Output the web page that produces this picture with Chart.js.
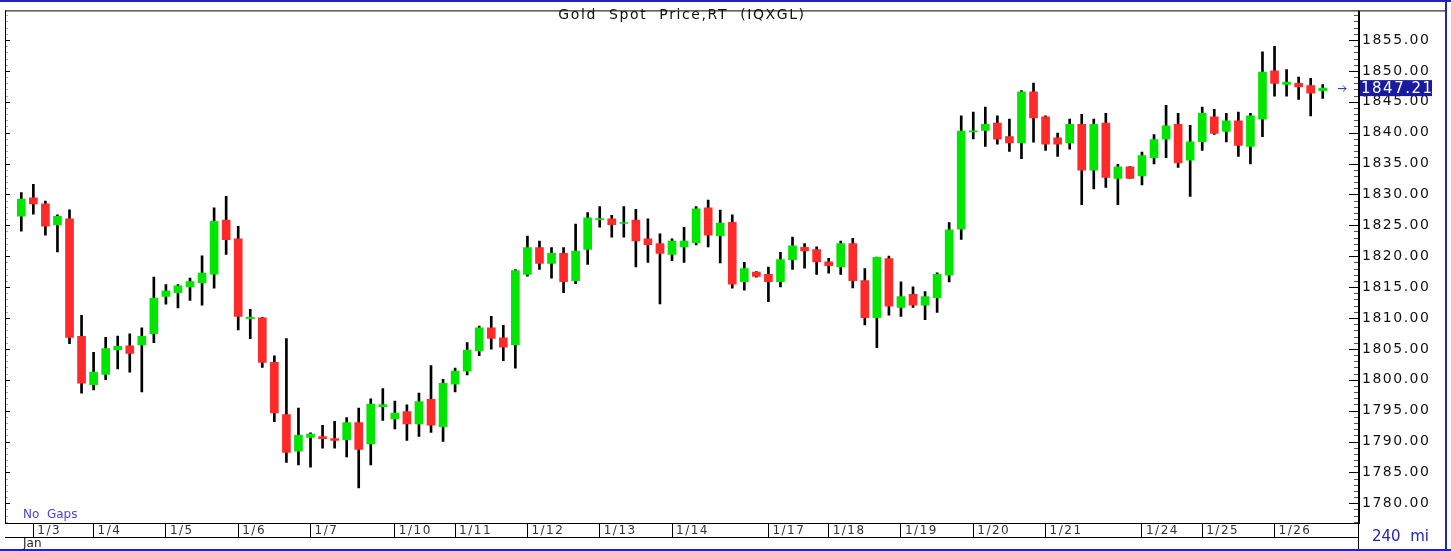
<!DOCTYPE html>
<html><head><meta charset="utf-8">
<script src="https://cdn.jsdelivr.net/npm/chart.js@4.4.1/dist/chart.umd.min.js"></script>
<style>html,body{margin:0;padding:0;background:#fff;overflow:hidden}#wrap{position:relative;width:1451px;height:551px}canvas{display:block}</style>
</head><body><div id="wrap"><canvas id="c" width="1451" height="551"></canvas></div>
<script>
// ---- data (240-minute candles, Gold Spot) ----
const openP  = [1826.5,1829.47,1828.46,1825.06,1826.07,1807.02,1799.21,1800.86,1804.84,1805.48,1805.64,1807.44,1813.49,1814.08,1815.03,1815.67,1817.1,1825.86,1822.83,1809.9,
1810.04,1802.82,1794.38,1788.44,1790.67,1790.78,1790.46,1790.32,1793.08,1789.61,1795.66,1793.64,1794.86,1792.85,1796.83,1792.42,1799.27,1801.4,1804.68,1808.4,
1806.8,1805.64,1817.05,1821.4,1818.85,1820.45,1816.04,1821.08,1825.9,1826.07,1825.3,1825.86,1822.83,1822.04,1820.29,1821.51,1822.2,1827.82,1823.31,1825.49,
1815.88,1817.42,1817.05,1815.88,1819.44,1821.45,1821.08,1819.07,1818.27,1822.04,1816.04,1810.04,1819.6,1811.7,1813.83,1812.07,1813.3,1816.91,1824.36,1840.1,
1840.37,1841.54,1839.36,1838.35,1846.6,1842.55,1839.15,1838.35,1841.33,1833.94,1841.54,1832.61,1834.47,1832.98,1835.96,1838.94,1841.33,1835.53,1838.56,1842.55,
1840.21,1841.91,1837.77,1842.18,1850.0,1847.82,1847.98,1847.61,1846.81];
const highP  = [1830.3,1831.65,1828.94,1826.7,1827.5,1810.41,1804.42,1806.86,1807.07,1807.44,1808.4,1816.62,1815.4,1815.4,1816.46,1820.07,1827.82,1829.68,1824.85,1811.42,
1810.1,1803.89,1806.65,1795.4,1791.4,1792.63,1793.28,1793.88,1795.4,1796.9,1798.58,1796.56,1795.93,1797.83,1802.29,1800.06,1801.87,1806.0,1808.67,1810.25,
1808.82,1817.85,1823.26,1822.46,1821.4,1821.4,1825.22,1827.08,1828.04,1826.6,1828.04,1827.6,1826.07,1823.63,1822.83,1824.69,1828.04,1829.1,1827.45,1826.71,
1819.01,1817.5,1818.22,1820.61,1823.1,1822.04,1821.51,1819.65,1822.46,1822.89,1818.0,1819.85,1820.02,1815.85,1815.05,1814.26,1817.29,1825.43,1842.71,1843.35,
1844.15,1842.71,1842.18,1846.81,1848.03,1842.71,1839.95,1842.18,1842.98,1842.18,1843.14,1834.89,1834.5,1836.86,1839.68,1844.41,1843.14,1841.17,1844.15,1843.78,
1843.14,1843.35,1843.14,1853.09,1853.99,1850.21,1848.99,1848.78,1847.77];
const lowP   = [1824.06,1826.8,1823.42,1820.71,1805.85,1797.83,1798.37,1800.01,1801.76,1801.23,1798.05,1806.0,1812.22,1811.63,1812.86,1812.06,1814.82,1820.29,1808.08,1806.65,
1802.0,1793.22,1786.63,1786.21,1785.84,1788.94,1788.94,1787.51,1782.47,1786.21,1793.43,1792.05,1790.19,1790.83,1791.49,1790.03,1798.05,1800.8,1803.89,1804.95,
1803.09,1801.87,1816.78,1817.85,1816.46,1814.08,1815.56,1818.69,1824.69,1823.1,1823.1,1818.27,1819.01,1812.27,1819.28,1819.01,1821.83,1821.51,1818.91,1814.82,
1814.5,1816.6,1812.64,1815.03,1817.85,1818.06,1817.05,1817.26,1817.05,1814.87,1808.88,1805.21,1810.47,1810.27,1811.7,1809.73,1810.9,1815.85,1822.71,1838.99,
1837.77,1838.14,1836.97,1835.8,1838.46,1837.13,1836.17,1837.34,1828.35,1830.9,1831.12,1828.35,1832.6,1831.54,1834.95,1835.96,1834.36,1829.68,1837.13,1839.73,
1838.51,1836.17,1834.95,1839.36,1845.9,1845.9,1845.37,1842.71,1845.53];
const closeP = [1829.26,1828.46,1824.85,1826.44,1806.86,1799.43,1801.23,1805.05,1805.42,1804.26,1807.02,1813.23,1814.39,1815.19,1815.88,1817.26,1825.65,1822.68,1810.25,1810.1,
1802.82,1794.65,1788.23,1790.99,1791.2,1790.46,1790.16,1793.08,1788.73,1796.06,1795.98,1794.6,1792.85,1796.45,1792.63,1799.43,1801.39,1804.8,1808.4,1806.7,
1805.27,1817.69,1821.4,1818.85,1820.45,1815.88,1820.82,1826.23,1826.1,1825.12,1825.45,1822.46,1821.88,1820.45,1822.46,1822.46,1827.66,1823.42,1825.38,1815.46,
1818.0,1816.73,1815.88,1819.44,1821.67,1820.87,1819.07,1818.48,1822.04,1816.04,1810.04,1819.81,1811.9,1813.46,1812.07,1813.46,1817.07,1824.26,1840.27,1840.3,
1841.33,1838.94,1838.35,1846.6,1842.39,1838.14,1838.14,1841.33,1833.94,1841.33,1832.77,1834.47,1832.61,1836.28,1838.88,1841.12,1835.11,1838.51,1843.14,1839.89,
1841.91,1837.93,1842.71,1849.79,1847.98,1848.19,1847.4,1846.38,1847.21];
const dayLabels = ['1/3','1/4','1/5','1/6','1/7','1/10','1/11','1/12','1/13','1/14','1/17','1/18','1/19','1/20','1/21','1/24','1/25','1/26'];
const dayStart  = [1,6,12,18,24,31,36,42,48,54,62,67,73,79,85,93,98,104];
const yTickValues = [1780,1785,1790,1795,1800,1805,1810,1815,1820,1825,1830,1835,1840,1845,1850,1855];
const chartTitle = 'Gold  Spot  Price,RT  (IQXGL)';
const monthLabel = 'Jan';
const gapsLabel = 'No  Gaps';
const periodLabel = '240  mi';
const lastPrice = 1847.21;

const GREEN = '#00e600', RED = '#ff2a2a', BLUE = '#2323b8';

const idx = openP.map((_, i) => i);
const wickData = idx.map(i => ({x: i, y: [lowP[i], highP[i]]}));
const bodyData = idx.map(i => ({x: i, y: [Math.min(openP[i], closeP[i]), Math.max(openP[i], closeP[i])]}));
const bodyColors = idx.map(i => closeP[i] >= openP[i] ? GREEN : RED);

const FONT = '"DejaVu Sans", Verdana, sans-serif';

const decor = {
  id: 'decor',
  beforeDraw(chart) { chart.ctx.letterSpacing = '1.5px'; },
  beforeDatasetsDraw(chart) { chart.ctx.letterSpacing = '0px'; },
  afterDraw(chart) {
    const ctx = chart.ctx, a = chart.chartArea, y = chart.scales.y;
    ctx.save();
    ctx.letterSpacing = '0px';
    // frame lines
    ctx.fillStyle = '#000';
    ctx.fillRect(a.left, a.top - 1, 1, a.bottom - a.top + 1);      // left border
    ctx.fillRect(a.left, a.top - 1, 1446 - a.left, 1);              // top
    ctx.fillRect(a.left, a.bottom, a.right - a.left, 1);            // plot bottom
    ctx.fillRect(a.left, a.bottom + 14, a.right - a.left, 1);       // date band bottom
    ctx.fillRect(a.right - 1, a.top - 1, 1, 551 - a.top);           // right ruler line
    ctx.fillStyle = BLUE;
    ctx.fillRect(0, 0, 1451, 2);
    ctx.fillRect(0, 549, 1451, 2);
    ctx.fillRect(1445, 0, 2, 551);
    // rulers
    for (let v = 1777; v <= 1859; v++) {
      const py = Math.round(y.getPixelForValue(v)) + 0.5;
      const major = v % 5 === 0;
      ctx.fillStyle = major ? '#000' : '#555';
      ctx.fillRect(a.right - 1 - (major ? 9 : 4), py - 0.5, major ? 9 : 4, 1);
      ctx.fillStyle = major ? '#000' : '#aaa';
      ctx.fillRect(a.left + 1, py - 0.5, major ? 4 : 2, 1);
    }
    // title
    ctx.fillStyle = '#111';
    ctx.font = '14px ' + FONT;
    ctx.letterSpacing = '1.6px';
    ctx.textAlign = 'center'; ctx.textBaseline = 'middle';
    ctx.fillText(chartTitle, (a.left + a.right) / 2, 15);
    // No gaps
    ctx.letterSpacing = '0px';
    ctx.fillStyle = '#4646d2';
    ctx.font = '12px ' + FONT;
    ctx.textAlign = 'left';
    ctx.fillText(gapsLabel, 23, 515);
    // Jan
    ctx.fillStyle = '#222';
    ctx.fillText(monthLabel, 23, 544);
    // period
    ctx.fillStyle = BLUE;
    ctx.font = '15px ' + FONT;
    ctx.fillText(periodLabel, 1372, 537);
    // last price tag
    const lp = y.getPixelForValue(lastPrice);
    ctx.fillStyle = '#1a1aa0';
    ctx.fillRect(a.right + 1, lp - 8, 72, 16);
    ctx.fillStyle = '#fff';
    ctx.font = '15px ' + FONT;
    ctx.letterSpacing = '1.5px';
    ctx.fillText(lastPrice.toFixed(2), a.right + 2, lp + 1);
    // arrow
    ctx.letterSpacing = '0px';
    ctx.strokeStyle = BLUE; ctx.lineWidth = 1;
    ctx.beginPath();
    ctx.moveTo(1338, lp + 0.5); ctx.lineTo(1346, lp + 0.5);
    ctx.moveTo(1343, lp - 2.5); ctx.lineTo(1346, lp + 0.5); ctx.lineTo(1343, lp + 3.5);
    ctx.stroke();
    ctx.restore();
  }
};

new Chart(document.getElementById('c'), {
  type: 'bar',
  data: {
    datasets: [
      { label: 'body', data: bodyData, backgroundColor: bodyColors, barThickness: 8, grouped: false, order: 0, borderWidth: 0, borderSkipped: false },
      { label: 'wick', data: wickData, backgroundColor: '#000', barThickness: 2, grouped: false, order: 1, borderWidth: 0, borderSkipped: false }
    ]
  },
  options: {
    responsive: false, devicePixelRatio: 1, animation: false,
    layout: { padding: { left: 5, top: 4, right: 0, bottom: 0 } },
    plugins: { legend: { display: false }, tooltip: { enabled: false }, title: { display: false } },
    scales: {
      x: {
        type: 'linear', position: 'bottom', min: -1.353, max: 111.01, offset: false,
        afterBuildTicks: s => { s.ticks = dayStart.map(v => ({ value: v })); },
        afterFit: s => { s.height = 28; },
        grid: { display: true, offset: false, drawOnChartArea: false, drawTicks: true, tickLength: 14, color: '#000', lineWidth: 1 },
        border: { display: true, color: '#000' },
        ticks: {
          autoSkip: false, maxRotation: 0, minRotation: 0, align: 'start', labelOffset: 4, padding: -13,
          color: '#333', font: { family: FONT, size: 12 },
          callback: v => { const k = dayStart.indexOf(v); return k >= 0 ? dayLabels[k] : ''; }
        }
      },
      y: {
        type: 'linear', position: 'right', min: 1776.81, max: 1859.63,
        afterBuildTicks: s => { s.ticks = yTickValues.map(v => ({ value: v })); },
        afterFit: s => { s.width = 92; },
        grid: { display: false, drawTicks: false },
        border: { display: true, color: '#000' },
        ticks: { padding: 3, color: '#111', font: { family: FONT, size: 14 }, callback: v => v.toFixed(2) }
      }
    }
  },
  plugins: [decor]
});
</script></body></html>
